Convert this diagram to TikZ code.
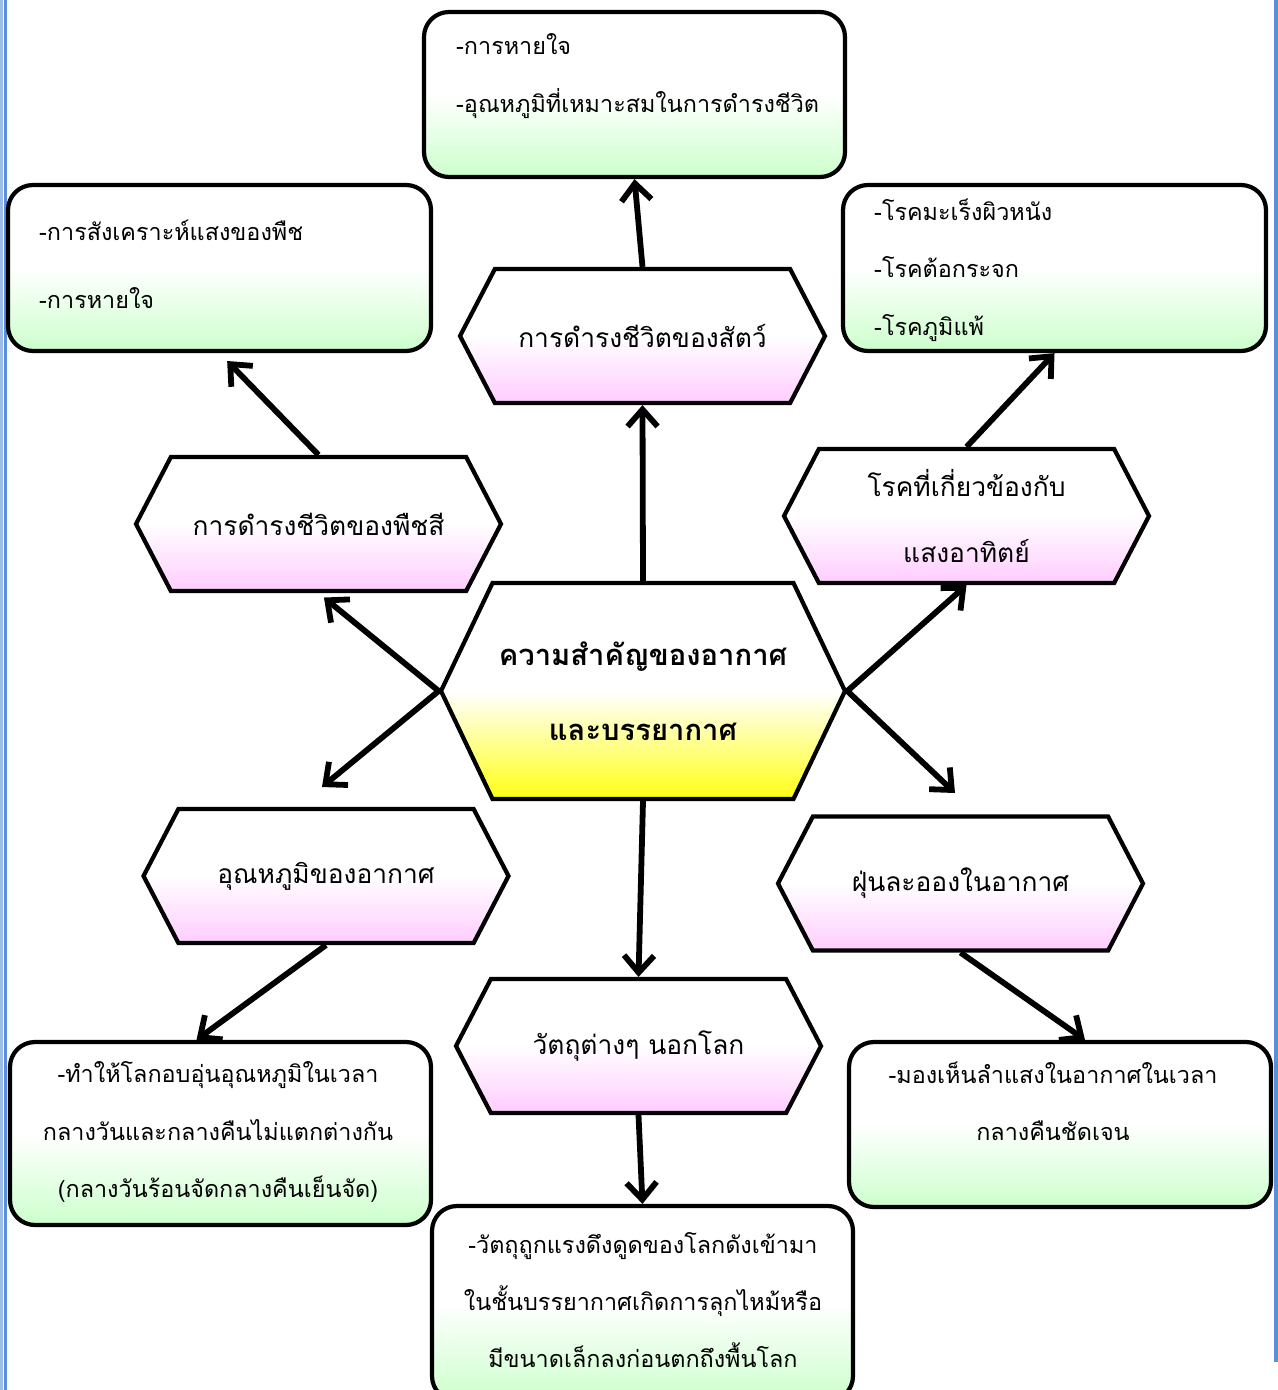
\documentclass[tikz,border=0pt]{standalone}
\usepackage{fontspec}
\newfontfamily\thai[Script=Thai]{Loma}
\usetikzlibrary{shapes.symbols,arrows.meta,calc}
\definecolor{boxgreen}{RGB}{204,255,204}
\definecolor{hexpink}{RGB}{255,204,255}
\definecolor{hexyellow}{RGB}{255,255,20}
\definecolor{edgeblue}{RGB}{91,143,220}
\begin{document}
\begin{tikzpicture}[x=0.2mm,y=-0.2mm,
  every node/.style={font=\thai\fontsize{13.3}{33}\selectfont},
  greenbox/.style={draw,line width=2.4pt,rounded corners=5mm,top color=white,bottom color=boxgreen,middle color=white,inner sep=0pt},
  hexbox/.style={draw,line width=2.4pt,signal,signal to=west and east,signal pointer angle=125,font=\thai\fontsize{15}{33}\selectfont,
    top color=white,bottom color=hexpink,middle color=white,inner sep=0pt,minimum width=73mm,minimum height=26.8mm},
  arr/.style={line width=3.3pt,-{Straight Barb[length=3.4mm,width=6mm]}}]
\useasboundingbox (0,0) rectangle (1278,1390);
\draw[edgeblue!60,line width=1.4pt] (1.5,0) -- (1.5,1390);
\draw[edgeblue,line width=1.6pt] (5.5,0) -- (5.5,1390);
\draw[edgeblue,line width=1.8pt] (1276,0) -- (1276,1362);

% green boxes
\node[greenbox,minimum width=84.2mm,minimum height=33mm] (topbox) at (634.5,94.5) {};
\node[greenbox,minimum width=84.6mm,minimum height=33.2mm] (tlbox) at (219.5,268) {};
\node[greenbox,minimum width=84.6mm,minimum height=33.2mm] (trbox) at (1054.5,268) {};
\node[greenbox,minimum width=84.2mm,minimum height=36.6mm] (blbox) at (220.5,1133.5) {};
\node[greenbox,minimum width=84.4mm,minimum height=33mm] (brbox) at (1060,1124.5) {};
\node[greenbox,minimum width=84.2mm,minimum height=39mm] (botbox) at (642.5,1303.5) {};

\node[anchor=west,align=left] (toptxt) at (450,76) {-การหายใจ\\-อุณหภูมิที่เหมาะสมในการดำรงชีวิต};
\node[anchor=west,align=left,font=\thai\fontsize{13.3}{38.7}\selectfont] (tltxt) at (33,264) {-การสังเคราะห์แสงของพืช\\-การหายใจ};
\node[anchor=west,align=left,font=\thai\fontsize{13.3}{32.7}\selectfont] (trtxt) at (868,270) {-โรคมะเร็งผิวหนัง\\-โรคต้อกระจก\\-โรคภูมิแพ้};
\node[align=center,font=\thai\fontsize{13.3}{32.7}\selectfont] (bltxt) at (218,1132) {-ทำให้โลกอบอุ่นอุณหภูมิในเวลา\\กลางวันและกลางคืนไม่แตกต่างกัน\\(กลางวันร้อนจัดกลางคืนเย็นจัด)};
\node[align=center,font=\thai\fontsize{13.3}{32.4}\selectfont] (brtxt) at (1053,1101.5) {-มองเห็นลำแสงในอากาศในเวลา\\กลางคืนชัดเจน};
\node[align=center,font=\thai\fontsize{13.3}{32.7}\selectfont] (bottxt) at (643,1300) {-วัตถุถูกแรงดึงดูดของโลกดังเข้ามา\\ในชั้นบรรยากาศเกิดการลุกไหม้หรือ\\มีขนาดเล็กลงก่อนตกถึงพื้นโลก};

% hexagons
\node[hexbox] (anim) at (642.5,336) {การดำรงชีวิตของสัตว์};
\node[hexbox] (plant) at (318.5,524) {การดำรงชีวิตของพืชสี};
\node[hexbox,align=center,font=\thai\fontsize{15}{37.5}\selectfont] (dis) at (966.5,516) {โรคที่เกี่ยวข้องกับ\\แสงอาทิตย์};
\node[hexbox,minimum width=80.8mm,minimum height=43.2mm,signal pointer angle=129,bottom color=hexyellow,middle color=white,
  align=center,font=\thai\bfseries\fontsize{16.6}{43}\selectfont] (center) at (643,691) {ความสำคัญของอากาศ\\และบรรยากาศ};
\node[hexbox] (temp) at (326,876) {อุณหภูมิของอากาศ};
\node[hexbox] (dust) at (960.5,883.5) {ฝุ่นละอองในอากาศ};
\node[hexbox] (obj) at (638.5,1046) {วัตถุต่างๆ นอกโลก};

% arrows
\coordinate (tempend) at (322,787);
\coordinate (dustend) at (955,793);
\draw[arr] (center.north) -- (anim.south);
\draw[arr] (anim.north) -- (topbox.south);
\draw[arr,shorten >=1.4mm] (center.west) -- (plant.south);
\draw[arr,shorten >=2.2mm] (plant.north) -- (tlbox.south);
\draw[arr] (center.west) -- (tempend);
\draw[arr] (temp.south) -- ($(blbox.north)+(-24,0)$);
\draw[arr] (center.south) -- (obj.north);
\draw[arr] (obj.south) -- (botbox.north);
\draw[arr] (center.east) -- (dis.south);
\draw[arr] (dis.north) -- (trbox.south);
\draw[arr] (center.east) -- (dustend);
\draw[arr] (dust.south) -- ($(brbox.north)+(25,0)$);
\end{tikzpicture}
\end{document}
